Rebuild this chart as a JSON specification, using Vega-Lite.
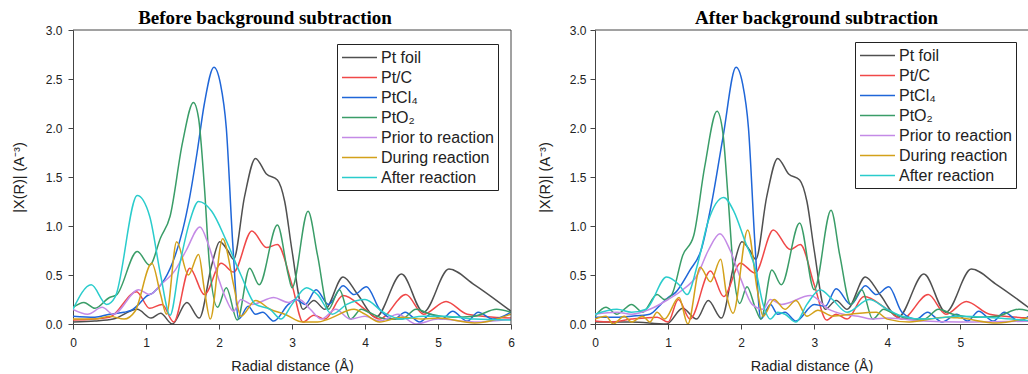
{
  "$schema": "https://vega.github.io/schema/vega-lite/v6.json",
  "background": "white",
  "padding": {"left": 11, "top": 9, "right": 0, "bottom": 0},
  "bounds": "flush",
  "spacing": 84,
  "config": {
    "font": "Liberation Sans",
    "view": {"stroke": null},
    "axis": {
      "labelFont": "Liberation Sans", "labelFontSize": 12, "labelColor": "#222",
      "titleFont": "Liberation Sans", "titleFontSize": 14.5, "titleFontWeight": "normal", "titleColor": "#222",
      "tickColor": "#444", "domainColor": "#444", "grid": false, "labelPadding": 5
    },
    "legend": {
      "orient": "none", "strokeColor": "#222", "fillColor": "white", "padding": 4, "rowPadding": 2,
      "symbolType": "M-2,0H2", "symbolSize": 306, "symbolStrokeWidth": 1.5, "symbolOffset": 9,
      "labelFont": "Liberation Sans", "labelFontSize": 16, "labelColor": "#222", "labelOffset": 12, "title": null
    },
    "title": {"font": "Liberation Serif", "fontSize": 19, "fontWeight": "bold", "color": "#000", "anchor": "middle"}
  },
  "resolve": {"legend": {"color": "independent"}},
  "datasets": {
    "before": [
      {"s":"Pt foil","r":0,"v":0.02},{"s":"Pt foil","r":0.3,"v":0.03},{"s":"Pt foil","r":0.55,"v":0.05},{"s":"Pt foil","r":0.88,"v":0.15},{"s":"Pt foil","r":1.07,"v":0.06},{"s":"Pt foil","r":1.2,"v":0.11},{"s":"Pt foil","r":1.36,"v":0.0},{"s":"Pt foil","r":1.56,"v":0.22},{"s":"Pt foil","r":1.73,"v":0.06},{"s":"Pt foil","r":1.9,"v":0.6},{"s":"Pt foil","r":2.01,"v":0.84},{"s":"Pt foil","r":2.12,"v":0.75},{"s":"Pt foil","r":2.2,"v":0.66},{"s":"Pt foil","r":2.35,"v":1.3},{"s":"Pt foil","r":2.5,"v":1.69},{"s":"Pt foil","r":2.65,"v":1.53},{"s":"Pt foil","r":2.8,"v":1.47},{"s":"Pt foil","r":2.9,"v":1.25},{"s":"Pt foil","r":3.0,"v":0.75},{"s":"Pt foil","r":3.15,"v":0.15},{"s":"Pt foil","r":3.3,"v":0.24},{"s":"Pt foil","r":3.45,"v":0.15},{"s":"Pt foil","r":3.7,"v":0.48},{"s":"Pt foil","r":3.9,"v":0.3},{"s":"Pt foil","r":4.15,"v":0.07},{"s":"Pt foil","r":4.5,"v":0.51},{"s":"Pt foil","r":4.8,"v":0.12},{"s":"Pt foil","r":5.15,"v":0.56},{"s":"Pt foil","r":5.5,"v":0.4},{"s":"Pt foil","r":6.0,"v":0.13},
      {"s":"Pt/C","r":0,"v":0.04},{"s":"Pt/C","r":0.5,"v":0.07},{"s":"Pt/C","r":0.87,"v":0.33},{"s":"Pt/C","r":1.05,"v":0.16},{"s":"Pt/C","r":1.22,"v":0.2},{"s":"Pt/C","r":1.38,"v":0.02},{"s":"Pt/C","r":1.6,"v":0.57},{"s":"Pt/C","r":1.8,"v":0.3},{"s":"Pt/C","r":2.03,"v":0.62},{"s":"Pt/C","r":2.2,"v":0.53},{"s":"Pt/C","r":2.45,"v":0.95},{"s":"Pt/C","r":2.65,"v":0.78},{"s":"Pt/C","r":2.8,"v":0.81},{"s":"Pt/C","r":3.0,"v":0.4},{"s":"Pt/C","r":3.15,"v":0.02},{"s":"Pt/C","r":3.3,"v":0.09},{"s":"Pt/C","r":3.45,"v":0.05},{"s":"Pt/C","r":3.7,"v":0.29},{"s":"Pt/C","r":4.0,"v":0.15},{"s":"Pt/C","r":4.2,"v":0.05},{"s":"Pt/C","r":4.56,"v":0.3},{"s":"Pt/C","r":4.8,"v":0.1},{"s":"Pt/C","r":5.11,"v":0.23},{"s":"Pt/C","r":5.4,"v":0.1},{"s":"Pt/C","r":6.0,"v":0.06},
      {"s":"PtCl₄","r":0,"v":0.08},{"s":"PtCl₄","r":0.3,"v":0.07},{"s":"PtCl₄","r":0.5,"v":0.1},{"s":"PtCl₄","r":0.7,"v":0.12},{"s":"PtCl₄","r":0.8,"v":0.14},{"s":"PtCl₄","r":0.9,"v":0.2},{"s":"PtCl₄","r":1.0,"v":0.28},{"s":"PtCl₄","r":1.1,"v":0.32},{"s":"PtCl₄","r":1.25,"v":0.45},{"s":"PtCl₄","r":1.4,"v":0.7},{"s":"PtCl₄","r":1.5,"v":0.95},{"s":"PtCl₄","r":1.6,"v":1.3},{"s":"PtCl₄","r":1.7,"v":1.75},{"s":"PtCl₄","r":1.8,"v":2.25},{"s":"PtCl₄","r":1.93,"v":2.62},{"s":"PtCl₄","r":2.02,"v":2.45},{"s":"PtCl₄","r":2.1,"v":2.0},{"s":"PtCl₄","r":2.19,"v":0.8},{"s":"PtCl₄","r":2.27,"v":0.05},{"s":"PtCl₄","r":2.4,"v":0.18},{"s":"PtCl₄","r":2.5,"v":0.1},{"s":"PtCl₄","r":2.6,"v":0.12},{"s":"PtCl₄","r":2.75,"v":0.03},{"s":"PtCl₄","r":2.95,"v":0.2},{"s":"PtCl₄","r":3.05,"v":0.25},{"s":"PtCl₄","r":3.18,"v":0.2},{"s":"PtCl₄","r":3.33,"v":0.35},{"s":"PtCl₄","r":3.5,"v":0.2},{"s":"PtCl₄","r":3.7,"v":0.39},{"s":"PtCl₄","r":3.85,"v":0.3},{"s":"PtCl₄","r":4.02,"v":0.38},{"s":"PtCl₄","r":4.2,"v":0.15},{"s":"PtCl₄","r":4.4,"v":0.05},{"s":"PtCl₄","r":4.55,"v":0.12},{"s":"PtCl₄","r":4.75,"v":0.02},{"s":"PtCl₄","r":4.9,"v":0.1},{"s":"PtCl₄","r":5.05,"v":0.05},{"s":"PtCl₄","r":5.2,"v":0.13},{"s":"PtCl₄","r":5.4,"v":0.03},{"s":"PtCl₄","r":5.55,"v":0.12},{"s":"PtCl₄","r":5.75,"v":0.05},{"s":"PtCl₄","r":6.0,"v":0.12},
      {"s":"PtO₂","r":0,"v":0.17},{"s":"PtO₂","r":0.15,"v":0.22},{"s":"PtO₂","r":0.3,"v":0.16},{"s":"PtO₂","r":0.5,"v":0.27},{"s":"PtO₂","r":0.6,"v":0.3},{"s":"PtO₂","r":0.88,"v":0.74},{"s":"PtO₂","r":1.05,"v":0.6},{"s":"PtO₂","r":1.2,"v":0.88},{"s":"PtO₂","r":1.33,"v":1.1},{"s":"PtO₂","r":1.5,"v":1.85},{"s":"PtO₂","r":1.65,"v":2.26},{"s":"PtO₂","r":1.72,"v":2.1},{"s":"PtO₂","r":1.8,"v":1.4},{"s":"PtO₂","r":1.87,"v":0.6},{"s":"PtO₂","r":1.98,"v":0.17},{"s":"PtO₂","r":2.1,"v":0.37},{"s":"PtO₂","r":2.25,"v":0.04},{"s":"PtO₂","r":2.42,"v":0.57},{"s":"PtO₂","r":2.55,"v":0.4},{"s":"PtO₂","r":2.8,"v":1.01},{"s":"PtO₂","r":2.95,"v":0.5},{"s":"PtO₂","r":3.0,"v":0.37},{"s":"PtO₂","r":3.22,"v":1.15},{"s":"PtO₂","r":3.35,"v":0.7},{"s":"PtO₂","r":3.5,"v":0.15},{"s":"PtO₂","r":3.65,"v":0.35},{"s":"PtO₂","r":3.8,"v":0.05},{"s":"PtO₂","r":3.95,"v":0.15},{"s":"PtO₂","r":4.05,"v":0.12},{"s":"PtO₂","r":4.3,"v":0.05},{"s":"PtO₂","r":4.5,"v":0.05},{"s":"PtO₂","r":4.7,"v":0.15},{"s":"PtO₂","r":4.9,"v":0.1},{"s":"PtO₂","r":5.2,"v":0.07},{"s":"PtO₂","r":5.5,"v":0.08},{"s":"PtO₂","r":5.8,"v":0.15},{"s":"PtO₂","r":6.0,"v":0.12},
      {"s":"Prior to reaction","r":0,"v":0.15},{"s":"Prior to reaction","r":0.2,"v":0.1},{"s":"Prior to reaction","r":0.4,"v":0.17},{"s":"Prior to reaction","r":0.55,"v":0.1},{"s":"Prior to reaction","r":0.9,"v":0.35},{"s":"Prior to reaction","r":1.05,"v":0.3},{"s":"Prior to reaction","r":1.2,"v":0.4},{"s":"Prior to reaction","r":1.4,"v":0.55},{"s":"Prior to reaction","r":1.55,"v":0.75},{"s":"Prior to reaction","r":1.74,"v":0.99},{"s":"Prior to reaction","r":1.85,"v":0.82},{"s":"Prior to reaction","r":2.0,"v":0.45},{"s":"Prior to reaction","r":2.1,"v":0.25},{"s":"Prior to reaction","r":2.2,"v":0.13},{"s":"Prior to reaction","r":2.3,"v":0.25},{"s":"Prior to reaction","r":2.45,"v":0.2},{"s":"Prior to reaction","r":2.75,"v":0.27},{"s":"Prior to reaction","r":2.95,"v":0.22},{"s":"Prior to reaction","r":3.1,"v":0.25},{"s":"Prior to reaction","r":3.25,"v":0.15},{"s":"Prior to reaction","r":3.4,"v":0.05},{"s":"Prior to reaction","r":3.6,"v":0.15},{"s":"Prior to reaction","r":3.8,"v":0.05},{"s":"Prior to reaction","r":4.0,"v":0.08},{"s":"Prior to reaction","r":4.2,"v":0.03},{"s":"Prior to reaction","r":4.45,"v":0.1},{"s":"Prior to reaction","r":4.7,"v":0.0},{"s":"Prior to reaction","r":5.0,"v":0.05},{"s":"Prior to reaction","r":5.5,"v":0.02},{"s":"Prior to reaction","r":6.0,"v":0.05},
      {"s":"During reaction","r":0,"v":0.05},{"s":"During reaction","r":0.3,"v":0.05},{"s":"During reaction","r":0.5,"v":0.08},{"s":"During reaction","r":0.7,"v":0.05},{"s":"During reaction","r":0.85,"v":0.13},{"s":"During reaction","r":1.08,"v":0.62},{"s":"During reaction","r":1.2,"v":0.3},{"s":"During reaction","r":1.28,"v":0.1},{"s":"During reaction","r":1.42,"v":0.84},{"s":"During reaction","r":1.58,"v":0.5},{"s":"During reaction","r":1.72,"v":0.71},{"s":"During reaction","r":1.8,"v":0.35},{"s":"During reaction","r":1.88,"v":0.05},{"s":"During reaction","r":2.05,"v":0.87},{"s":"During reaction","r":2.2,"v":0.4},{"s":"During reaction","r":2.3,"v":0.08},{"s":"During reaction","r":2.5,"v":0.24},{"s":"During reaction","r":2.7,"v":0.15},{"s":"During reaction","r":2.9,"v":0.1},{"s":"During reaction","r":3.15,"v":0.02},{"s":"During reaction","r":3.35,"v":0.02},{"s":"During reaction","r":3.5,"v":0.05},{"s":"During reaction","r":3.85,"v":0.15},{"s":"During reaction","r":4.0,"v":0.1},{"s":"During reaction","r":4.2,"v":0.02},{"s":"During reaction","r":4.5,"v":0.07},{"s":"During reaction","r":4.8,"v":0.05},{"s":"During reaction","r":5.0,"v":0.06},{"s":"During reaction","r":5.5,"v":0.01},{"s":"During reaction","r":6.0,"v":0.1},
      {"s":"After reaction","r":0,"v":0.15},{"s":"After reaction","r":0.25,"v":0.4},{"s":"After reaction","r":0.46,"v":0.2},{"s":"After reaction","r":0.58,"v":0.28},{"s":"After reaction","r":0.88,"v":1.31},{"s":"After reaction","r":1.05,"v":1.1},{"s":"After reaction","r":1.2,"v":0.5},{"s":"After reaction","r":1.33,"v":0.09},{"s":"After reaction","r":1.46,"v":0.6},{"s":"After reaction","r":1.6,"v":1.05},{"s":"After reaction","r":1.72,"v":1.25},{"s":"After reaction","r":1.9,"v":1.15},{"s":"After reaction","r":2.1,"v":0.85},{"s":"After reaction","r":2.3,"v":0.5},{"s":"After reaction","r":2.5,"v":0.2},{"s":"After reaction","r":2.7,"v":0.15},{"s":"After reaction","r":2.85,"v":0.05},{"s":"After reaction","r":3.0,"v":0.2},{"s":"After reaction","r":3.2,"v":0.37},{"s":"After reaction","r":3.35,"v":0.3},{"s":"After reaction","r":3.55,"v":0.1},{"s":"After reaction","r":3.75,"v":0.2},{"s":"After reaction","r":4.0,"v":0.25},{"s":"After reaction","r":4.25,"v":0.12},{"s":"After reaction","r":4.5,"v":0.05},{"s":"After reaction","r":4.8,"v":0.08},{"s":"After reaction","r":5.1,"v":0.08},{"s":"After reaction","r":5.5,"v":0.05},{"s":"After reaction","r":6.0,"v":0.04}
    ],
    "after": [
      {"s":"Pt foil","r":0,"v":0.02},{"s":"Pt foil","r":0.5,"v":0.02},{"s":"Pt foil","r":0.98,"v":0.0},{"s":"Pt foil","r":1.2,"v":0.16},{"s":"Pt foil","r":1.39,"v":0.05},{"s":"Pt foil","r":1.55,"v":0.24},{"s":"Pt foil","r":1.73,"v":0.06},{"s":"Pt foil","r":1.9,"v":0.6},{"s":"Pt foil","r":2.01,"v":0.84},{"s":"Pt foil","r":2.12,"v":0.75},{"s":"Pt foil","r":2.2,"v":0.66},{"s":"Pt foil","r":2.35,"v":1.3},{"s":"Pt foil","r":2.5,"v":1.69},{"s":"Pt foil","r":2.65,"v":1.53},{"s":"Pt foil","r":2.8,"v":1.47},{"s":"Pt foil","r":2.9,"v":1.25},{"s":"Pt foil","r":3.0,"v":0.75},{"s":"Pt foil","r":3.15,"v":0.15},{"s":"Pt foil","r":3.3,"v":0.24},{"s":"Pt foil","r":3.45,"v":0.15},{"s":"Pt foil","r":3.7,"v":0.48},{"s":"Pt foil","r":3.9,"v":0.3},{"s":"Pt foil","r":4.15,"v":0.07},{"s":"Pt foil","r":4.5,"v":0.51},{"s":"Pt foil","r":4.8,"v":0.12},{"s":"Pt foil","r":5.15,"v":0.56},{"s":"Pt foil","r":5.5,"v":0.4},{"s":"Pt foil","r":6.0,"v":0.13},
      {"s":"Pt/C","r":0,"v":0.03},{"s":"Pt/C","r":0.2,"v":0.02},{"s":"Pt/C","r":0.5,"v":0.05},{"s":"Pt/C","r":0.85,"v":0.07},{"s":"Pt/C","r":1.0,"v":0.02},{"s":"Pt/C","r":1.14,"v":0.25},{"s":"Pt/C","r":1.3,"v":0.05},{"s":"Pt/C","r":1.58,"v":0.54},{"s":"Pt/C","r":1.76,"v":0.28},{"s":"Pt/C","r":1.99,"v":0.62},{"s":"Pt/C","r":2.19,"v":0.52},{"s":"Pt/C","r":2.44,"v":0.96},{"s":"Pt/C","r":2.67,"v":0.76},{"s":"Pt/C","r":2.81,"v":0.81},{"s":"Pt/C","r":3.0,"v":0.4},{"s":"Pt/C","r":3.17,"v":0.04},{"s":"Pt/C","r":3.3,"v":0.1},{"s":"Pt/C","r":3.45,"v":0.05},{"s":"Pt/C","r":3.68,"v":0.28},{"s":"Pt/C","r":4.0,"v":0.15},{"s":"Pt/C","r":4.2,"v":0.05},{"s":"Pt/C","r":4.56,"v":0.3},{"s":"Pt/C","r":4.8,"v":0.1},{"s":"Pt/C","r":5.08,"v":0.23},{"s":"Pt/C","r":5.4,"v":0.1},{"s":"Pt/C","r":6.0,"v":0.06},
      {"s":"PtCl₄","r":0,"v":0.07},{"s":"PtCl₄","r":0.3,"v":0.07},{"s":"PtCl₄","r":0.5,"v":0.08},{"s":"PtCl₄","r":0.75,"v":0.1},{"s":"PtCl₄","r":0.9,"v":0.2},{"s":"PtCl₄","r":1.0,"v":0.27},{"s":"PtCl₄","r":1.1,"v":0.32},{"s":"PtCl₄","r":1.3,"v":0.55},{"s":"PtCl₄","r":1.45,"v":0.75},{"s":"PtCl₄","r":1.6,"v":1.25},{"s":"PtCl₄","r":1.75,"v":1.9},{"s":"PtCl₄","r":1.93,"v":2.62},{"s":"PtCl₄","r":2.02,"v":2.45},{"s":"PtCl₄","r":2.1,"v":2.0},{"s":"PtCl₄","r":2.19,"v":0.8},{"s":"PtCl₄","r":2.27,"v":0.05},{"s":"PtCl₄","r":2.4,"v":0.2},{"s":"PtCl₄","r":2.5,"v":0.1},{"s":"PtCl₄","r":2.6,"v":0.12},{"s":"PtCl₄","r":2.75,"v":0.03},{"s":"PtCl₄","r":3.0,"v":0.2},{"s":"PtCl₄","r":3.15,"v":0.18},{"s":"PtCl₄","r":3.3,"v":0.36},{"s":"PtCl₄","r":3.5,"v":0.2},{"s":"PtCl₄","r":3.7,"v":0.39},{"s":"PtCl₄","r":3.85,"v":0.3},{"s":"PtCl₄","r":4.02,"v":0.38},{"s":"PtCl₄","r":4.2,"v":0.12},{"s":"PtCl₄","r":4.4,"v":0.05},{"s":"PtCl₄","r":4.55,"v":0.12},{"s":"PtCl₄","r":4.75,"v":0.02},{"s":"PtCl₄","r":4.95,"v":0.1},{"s":"PtCl₄","r":5.1,"v":0.03},{"s":"PtCl₄","r":5.25,"v":0.13},{"s":"PtCl₄","r":5.45,"v":0.03},{"s":"PtCl₄","r":5.6,"v":0.12},{"s":"PtCl₄","r":5.8,"v":0.03},{"s":"PtCl₄","r":6.0,"v":0.12},
      {"s":"PtO₂","r":0,"v":0.08},{"s":"PtO₂","r":0.15,"v":0.17},{"s":"PtO₂","r":0.3,"v":0.1},{"s":"PtO₂","r":0.5,"v":0.2},{"s":"PtO₂","r":0.65,"v":0.12},{"s":"PtO₂","r":0.85,"v":0.3},{"s":"PtO₂","r":0.95,"v":0.25},{"s":"PtO₂","r":1.05,"v":0.3},{"s":"PtO₂","r":1.2,"v":0.7},{"s":"PtO₂","r":1.35,"v":0.9},{"s":"PtO₂","r":1.5,"v":1.6},{"s":"PtO₂","r":1.67,"v":2.17},{"s":"PtO₂","r":1.75,"v":1.95},{"s":"PtO₂","r":1.82,"v":1.3},{"s":"PtO₂","r":1.9,"v":0.5},{"s":"PtO₂","r":1.98,"v":0.21},{"s":"PtO₂","r":2.08,"v":0.38},{"s":"PtO₂","r":2.2,"v":0.15},{"s":"PtO₂","r":2.27,"v":0.05},{"s":"PtO₂","r":2.42,"v":0.55},{"s":"PtO₂","r":2.55,"v":0.4},{"s":"PtO₂","r":2.8,"v":1.03},{"s":"PtO₂","r":3.0,"v":0.35},{"s":"PtO₂","r":3.23,"v":1.16},{"s":"PtO₂","r":3.35,"v":0.7},{"s":"PtO₂","r":3.5,"v":0.2},{"s":"PtO₂","r":3.65,"v":0.35},{"s":"PtO₂","r":3.8,"v":0.05},{"s":"PtO₂","r":3.95,"v":0.15},{"s":"PtO₂","r":4.05,"v":0.12},{"s":"PtO₂","r":4.3,"v":0.05},{"s":"PtO₂","r":4.5,"v":0.05},{"s":"PtO₂","r":4.7,"v":0.15},{"s":"PtO₂","r":4.9,"v":0.1},{"s":"PtO₂","r":5.2,"v":0.07},{"s":"PtO₂","r":5.5,"v":0.08},{"s":"PtO₂","r":5.8,"v":0.15},{"s":"PtO₂","r":6.0,"v":0.12},
      {"s":"Prior to reaction","r":0,"v":0.1},{"s":"Prior to reaction","r":0.3,"v":0.12},{"s":"Prior to reaction","r":0.5,"v":0.1},{"s":"Prior to reaction","r":0.75,"v":0.15},{"s":"Prior to reaction","r":1.0,"v":0.25},{"s":"Prior to reaction","r":1.2,"v":0.35},{"s":"Prior to reaction","r":1.4,"v":0.5},{"s":"Prior to reaction","r":1.55,"v":0.75},{"s":"Prior to reaction","r":1.71,"v":0.92},{"s":"Prior to reaction","r":1.85,"v":0.75},{"s":"Prior to reaction","r":2.0,"v":0.45},{"s":"Prior to reaction","r":2.15,"v":0.2},{"s":"Prior to reaction","r":2.3,"v":0.15},{"s":"Prior to reaction","r":2.4,"v":0.25},{"s":"Prior to reaction","r":2.55,"v":0.2},{"s":"Prior to reaction","r":2.95,"v":0.29},{"s":"Prior to reaction","r":3.2,"v":0.15},{"s":"Prior to reaction","r":3.4,"v":0.1},{"s":"Prior to reaction","r":3.6,"v":0.08},{"s":"Prior to reaction","r":3.8,"v":0.05},{"s":"Prior to reaction","r":4.0,"v":0.06},{"s":"Prior to reaction","r":4.5,"v":0.03},{"s":"Prior to reaction","r":5.0,"v":0.02},{"s":"Prior to reaction","r":6.0,"v":0.03},
      {"s":"During reaction","r":0,"v":0.05},{"s":"During reaction","r":0.15,"v":0.08},{"s":"During reaction","r":0.25,"v":0.0},{"s":"During reaction","r":0.4,"v":0.08},{"s":"During reaction","r":0.5,"v":0.02},{"s":"During reaction","r":0.65,"v":0.08},{"s":"During reaction","r":0.75,"v":0.02},{"s":"During reaction","r":0.85,"v":0.12},{"s":"During reaction","r":0.95,"v":0.05},{"s":"During reaction","r":1.15,"v":0.27},{"s":"During reaction","r":1.27,"v":0.0},{"s":"During reaction","r":1.44,"v":0.58},{"s":"During reaction","r":1.58,"v":0.43},{"s":"During reaction","r":1.72,"v":0.66},{"s":"During reaction","r":1.8,"v":0.3},{"s":"During reaction","r":1.89,"v":0.11},{"s":"During reaction","r":2.09,"v":0.96},{"s":"During reaction","r":2.22,"v":0.35},{"s":"During reaction","r":2.3,"v":0.08},{"s":"During reaction","r":2.45,"v":0.25},{"s":"During reaction","r":2.6,"v":0.15},{"s":"During reaction","r":2.75,"v":0.24},{"s":"During reaction","r":2.9,"v":0.08},{"s":"During reaction","r":3.05,"v":0.14},{"s":"During reaction","r":3.25,"v":0.08},{"s":"During reaction","r":3.5,"v":0.1},{"s":"During reaction","r":3.85,"v":0.12},{"s":"During reaction","r":4.0,"v":0.05},{"s":"During reaction","r":4.3,"v":0.02},{"s":"During reaction","r":4.8,"v":0.07},{"s":"During reaction","r":5.0,"v":0.06},{"s":"During reaction","r":5.5,"v":0.01},{"s":"During reaction","r":6.0,"v":0.08},
      {"s":"After reaction","r":0,"v":0.1},{"s":"After reaction","r":0.3,"v":0.15},{"s":"After reaction","r":0.5,"v":0.12},{"s":"After reaction","r":0.7,"v":0.15},{"s":"After reaction","r":0.98,"v":0.48},{"s":"After reaction","r":1.15,"v":0.4},{"s":"After reaction","r":1.26,"v":0.3},{"s":"After reaction","r":1.4,"v":0.6},{"s":"After reaction","r":1.55,"v":1.05},{"s":"After reaction","r":1.76,"v":1.29},{"s":"After reaction","r":1.9,"v":1.15},{"s":"After reaction","r":2.05,"v":0.85},{"s":"After reaction","r":2.2,"v":0.55},{"s":"After reaction","r":2.3,"v":0.2},{"s":"After reaction","r":2.4,"v":0.05},{"s":"After reaction","r":2.5,"v":0.12},{"s":"After reaction","r":2.6,"v":0.1},{"s":"After reaction","r":2.75,"v":0.02},{"s":"After reaction","r":2.9,"v":0.2},{"s":"After reaction","r":3.08,"v":0.35},{"s":"After reaction","r":3.25,"v":0.25},{"s":"After reaction","r":3.45,"v":0.12},{"s":"After reaction","r":3.75,"v":0.25},{"s":"After reaction","r":4.0,"v":0.15},{"s":"After reaction","r":4.2,"v":0.08},{"s":"After reaction","r":4.5,"v":0.05},{"s":"After reaction","r":5.0,"v":0.08},{"s":"After reaction","r":5.5,"v":0.06},{"s":"After reaction","r":6.0,"v":0.03}
    ]
  },
  "hconcat": [
    {
      "width": 438, "height": 294,
      "title": {"text": "Before background subtraction", "dx": -27, "offset": -4},
      "layer": [
        {
          "data": {"name": "before"},
          "mark": {"type": "line", "interpolate": "monotone", "strokeWidth": 1.5, "clip": true},
          "encoding": {
            "x": {"field": "r", "type": "quantitative", "title": "Radial distance (Å)",
              "scale": {"domain": [0, 6], "nice": false, "zero": false},
              "axis": {"values": [0,0.5,1,1.5,2,2.5,3,3.5,4,4.5,5,5.5,6], "format": "d", "labelExpr": "datum.value % 1 === 0 ? datum.label : ''",
                "tickSize": {"condition": {"test": "datum.value % 1 === 0", "value": 5}, "value": 3}, "labelFlush": false, "labelOverlap": false, "labelPadding": 8, "titlePadding": 11}},
            "y": {"field": "v", "type": "quantitative", "title": "|X(R)| (A⁻³)",
              "scale": {"domain": [0, 3], "nice": false},
              "axis": {"values": [0,0.25,0.5,0.75,1,1.25,1.5,1.75,2,2.25,2.5,2.75,3], "labelExpr": "round(datum.value*4) % 2 === 0 ? format(datum.value, '.1f') : ''",
                "tickSize": {"condition": {"test": "round(datum.value*4) % 2 === 0", "value": 5}, "value": 3}, "labelFlush": false, "labelOverlap": false, "labelPadding": 6, "titlePadding": 19}},
            "color": {"field": "s", "type": "nominal",
              "scale": {"domain": ["Pt foil","Pt/C","PtCl₄","PtO₂","Prior to reaction","During reaction","After reaction"],
                        "range": ["#505050","#f04848","#1f66d8","#3a9d68","#c48ae6","#d3a11a","#2acccc"]},
              "legend": {"legendX": 264, "legendY": 14}}
          }
        },
        {
          "data": {"values": [{}]},
          "mark": {"type": "rule", "color": "#444", "strokeWidth": 1},
          "encoding": {"y": {"datum": 3}}
        },
        {
          "data": {"values": [{}]},
          "mark": {"type": "rule", "color": "#444", "strokeWidth": 1},
          "encoding": {"x": {"datum": 6}}
        }
      ]
    },
    {
      "width": 433, "height": 294,
      "title": {"text": "After background subtraction", "dx": 5, "offset": -4},
      "layer": [
        {
          "data": {"name": "after"},
          "mark": {"type": "line", "interpolate": "monotone", "strokeWidth": 1.5, "clip": true},
          "encoding": {
            "x": {"field": "r", "type": "quantitative", "title": "Radial distance (Å)",
              "scale": {"domain": [0, 5.925], "nice": false, "zero": false},
              "axis": {"values": [0,0.5,1,1.5,2,2.5,3,3.5,4,4.5,5,5.5], "format": "d", "labelExpr": "datum.value % 1 === 0 ? datum.label : ''",
                "tickSize": {"condition": {"test": "datum.value % 1 === 0", "value": 5}, "value": 3}, "labelFlush": false, "labelOverlap": false, "labelPadding": 8, "titlePadding": 11}},
            "y": {"field": "v", "type": "quantitative", "title": "|X(R)| (A⁻³)",
              "scale": {"domain": [0, 3], "nice": false},
              "axis": {"values": [0,0.25,0.5,0.75,1,1.25,1.5,1.75,2,2.25,2.5,2.75,3], "labelExpr": "round(datum.value*4) % 2 === 0 ? format(datum.value, '.1f') : ''",
                "tickSize": {"condition": {"test": "round(datum.value*4) % 2 === 0", "value": 5}, "value": 3}, "labelFlush": false, "labelOverlap": false, "labelPadding": 4, "titlePadding": 17}},
            "color": {"field": "s", "type": "nominal",
              "scale": {"domain": ["Pt foil","Pt/C","PtCl₄","PtO₂","Prior to reaction","During reaction","After reaction"],
                        "range": ["#505050","#f04848","#1f66d8","#3a9d68","#c48ae6","#d3a11a","#2acccc"]},
              "legend": {"legendX": 260, "legendY": 12}}
          }
        },
        {
          "data": {"values": [{}]},
          "mark": {"type": "rule", "color": "#444", "strokeWidth": 1},
          "encoding": {"y": {"datum": 3}}
        }
      ]
    }
  ]
}
